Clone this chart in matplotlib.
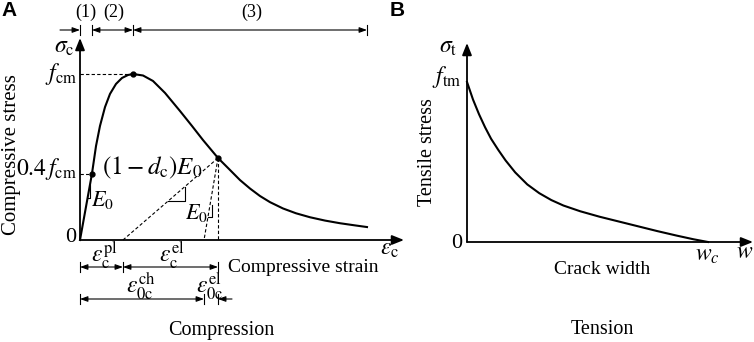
import matplotlib
matplotlib.use("Agg")
import matplotlib.pyplot as plt

# ---------------- data (normalised) ----------------
# Panel A: compressive stress-strain curve (strain / peak strain, stress / f_cm)
comp_strain = [0.0, 0.113, 0.226, 0.302, 0.377, 0.472, 0.566, 0.679, 0.792, 0.906, 1.0,
               1.189, 1.377, 1.604, 1.887, 2.113, 2.321, 2.604, 2.792, 3.019, 3.208,
               3.396, 3.585, 3.830, 4.075, 4.340, 4.623, 4.906, 5.189, 5.415]
comp_stress = [0.0, 0.200, 0.400, 0.566, 0.687, 0.801, 0.880, 0.940, 0.976, 0.994, 1.0,
               0.991, 0.958, 0.886, 0.777, 0.687, 0.602, 0.494, 0.434, 0.361, 0.310,
               0.265, 0.228, 0.190, 0.161, 0.137, 0.117, 0.101, 0.088, 0.078]
eps_04 = 0.226          # strain at 0.4 f_cm
eps_peak = 1.0          # strain at f_cm
eps_unload = 2.604      # unloading point strain
sig_unload = 0.494      # unloading point stress
eps_pl = 0.811          # plastic strain
eps_ch = 2.34           # crushing strain (E0 reload line intercept)
eps_end = 5.415         # end of curve

# Panel B: tension softening (w / w_c, stress / f_tm)
crack_w = [0.0, 0.025, 0.05, 0.075, 0.1, 0.13, 0.16, 0.2, 0.25, 0.3, 0.35, 0.4,
           0.47, 0.55, 0.63, 0.71, 0.79, 0.87, 0.94, 1.0]
tens_stress = [1.0, 0.89, 0.798, 0.717, 0.645, 0.575, 0.51, 0.435, 0.36, 0.305, 0.262,
               0.228, 0.192, 0.158, 0.128, 0.098, 0.068, 0.040, 0.017, 0.0]

W, H = 754, 342
plt.rcParams['mathtext.fontset'] = 'stix'
SERIF = ['Liberation Serif', 'DejaVu Serif']
plt.rcParams['font.family'] = SERIF
fig = plt.figure(figsize=(W / 100, H / 100), dpi=100)

# Panel A axes: data origin at pixel (80,240); 53 px per strain unit, 166 px per stress unit
axA = fig.add_axes([0, 0, 1, 1])
axA.set_xlim(-80 / 53, (W - 80) / 53)
axA.set_ylim((240 - H) / 166, 240 / 166)
axA.axis('off')

# Panel B axes: origin at pixel (467,242); 241 px per w unit, 160 px per stress unit
axB = fig.add_axes([0, 0, 1, 1])
axB.set_xlim(-467 / 241, (W - 467) / 241)
axB.set_ylim((242 - H) / 160, 242 / 160)
axB.axis('off')
axB.patch.set_alpha(0)

# text overlay in pixel coordinates
axT = fig.add_axes([0, 0, 1, 1])
axT.set_xlim(0, W)
axT.set_ylim(H, 0)
axT.axis('off')
axT.patch.set_alpha(0)

AX_HEAD = '-|>,head_length=0.55,head_width=0.22'
DIM_ONE = '-|>,head_length=0.5,head_width=0.18'
DIM_TWO = '<|-|>,head_length=0.5,head_width=0.18'


def arrow(ax, start, end, style=AX_HEAD, lw=1.3, ms=13):
    ax.annotate('', xy=end, xytext=start,
                arrowprops=dict(arrowstyle=style, lw=lw, color='k',
                                mutation_scale=ms, shrinkA=0, shrinkB=0))


dash = dict(color='k', lw=0.8, linestyle=(0, (3, 2)))

# ---- Panel A ----
arrow(axA, (0, 0), (0, (240 - 38) / 166))
arrow(axA, (0, 0), ((404 - 80) / 53, 0))
axA.plot(comp_strain, comp_stress, color='k', lw=1.5, solid_joinstyle='round')
axA.plot([eps_04, eps_peak, eps_unload], [0.4, 1.0, sig_unload], 'o', color='k', ms=3.5)
axA.plot([0, eps_peak], [1.0, 1.0], **dash)
axA.plot([0, eps_04], [0.4, 0.4], **dash)
axA.plot([eps_unload, eps_pl], [sig_unload, 0], **dash)
axA.plot([eps_unload, eps_ch], [sig_unload, 0], **dash)
axA.plot([eps_unload, eps_unload], [sig_unload, 0], **dash)

# slope triangle on (1-dc)E0 line
slope = sig_unload / (eps_unload - eps_pl)
tx1, tx2 = 1.66, 1.98
ty1, ty2 = slope * (tx1 - eps_pl), slope * (tx2 - eps_pl)
axA.plot([tx1, tx2, tx2], [ty1, ty1, ty2], color='k', lw=0.8)
# small E0 marks
axA.plot([0.143, 0.189, 0.189], [0.253, 0.253, 0.334], color='k', lw=0.8)
axA.plot([2.415, 2.49, 2.49], [0.139, 0.139, 0.211], color='k', lw=0.8)

# dimension lines
d = 5 / 166
top_y = (240 - 30) / 166
for x in [0, eps_04, eps_peak, eps_end]:
    axA.plot([x, x], [top_y - d, top_y + d], color='k', lw=0.8)
arrow(axA, (-20 / 53, top_y), (0, top_y), style=DIM_ONE, lw=0.8, ms=9)
arrow(axA, (eps_04, top_y), (eps_peak, top_y), style=DIM_TWO, lw=0.8, ms=9)
arrow(axA, (eps_peak, top_y), (eps_end, top_y), style=DIM_TWO, lw=0.8, ms=9)

r1 = (240 - 267) / 166
for x in [0, eps_pl, eps_unload]:
    axA.plot([x, x], [r1 - d, r1 + d], color='k', lw=0.8)
arrow(axA, (0, r1), (eps_pl, r1), style=DIM_TWO, lw=0.8, ms=9)
arrow(axA, (eps_pl, r1), (eps_unload, r1), style=DIM_TWO, lw=0.8, ms=9)

r2 = (240 - 299) / 166
for x in [0, eps_ch, eps_unload]:
    axA.plot([x, x], [r2 - d, r2 + d], color='k', lw=0.8)
arrow(axA, (0, r2), (eps_ch, r2), style=DIM_TWO, lw=0.8, ms=9)
arrow(axA, (eps_unload + 14 / 53, r2), (eps_unload, r2), style=DIM_ONE, lw=0.8, ms=9)

# ---- Panel B ----
arrow(axB, (0, 0), (0, (242 - 43) / 160))
arrow(axB, (0, 0), ((753 - 467) / 241, 0))
axB.plot(crack_w, tens_stress, color='k', lw=1.5, solid_joinstyle='round')


# ---- text ----
def t(x, y, s, size=14, ha='center', va='center', rot=0):
    axT.text(x, y, s, fontsize=size, ha=ha, va=va, rotation=rot, family=SERIF)


axT.text(1, 10, 'A', fontsize=15, fontweight='bold', family=['Liberation Sans', 'DejaVu Sans'],
         ha='left', va='center')
axT.text(390, 10, 'B', fontsize=15, fontweight='bold', family=['Liberation Sans', 'DejaVu Sans'],
         ha='left', va='center')

t(86, 12, '(1)', 13)
t(114, 12, '(2)', 13)
t(252, 12, '(3)', 13)
t(64, 48, r'$\sigma_{\mathrm{c}}$', 17)
t(77, 74, r'$f_{\mathrm{cm}}$', 17, ha='right')
t(77, 169, r'$0.4\,f_{\mathrm{cm}}$', 17, ha='right')
t(76, 238, '0', 16, ha='right')
t(12, 155, 'Compressive stress', 15, rot=90)
t(152, 168, r'$\left(1-d_{\mathrm{c}}\right)E_0$', 18)
t(102, 200, r'$E_0$', 16)
t(196, 213, r'$E_0$', 16)
t(390, 249, r'$\varepsilon_{\mathrm{c}}$', 17)
t(104, 255, r'$\varepsilon_{\mathrm{c}}^{\mathrm{pl}}$', 17)
t(172, 255, r'$\varepsilon_{\mathrm{c}}^{\mathrm{el}}$', 17)
t(141, 286, r'$\varepsilon_{0\mathrm{c}}^{\mathrm{ch}}$', 17)
t(210, 286, r'$\varepsilon_{0\mathrm{c}}^{\mathrm{el}}$', 17)
t(228, 268, 'Compressive strain', 14, ha='left')
t(221, 330, 'Compression', 14.5)

t(448, 48, r'$\sigma_{\mathrm{t}}$', 17)
t(461, 77, r'$f_{\mathrm{tm}}$', 17, ha='right')
t(462, 243, '0', 16, ha='right')
t(428, 152, 'Tensile stress', 14.5, rot=90)
t(707, 255, r'$w_c$', 17)
t(745, 252, r'$w$', 17)
t(602, 270, 'Crack width', 14)
t(602, 330, 'Tension', 14.5)

fig.savefig('out.png', dpi=100)
